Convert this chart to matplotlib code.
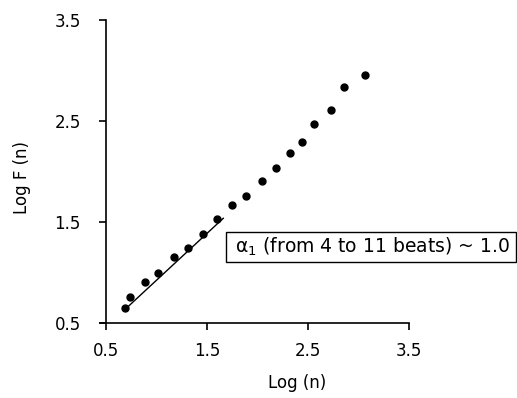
import matplotlib
matplotlib.use("Agg")
import matplotlib.pyplot as plt
from matplotlib.patches import Rectangle

# values
log_n = [0.691, 0.740, 0.888, 1.020, 1.175, 1.310, 1.458, 1.600, 1.745,
         1.889, 2.041, 2.183, 2.318, 2.440, 2.558, 2.726, 2.858, 3.062]
log_f = [0.643, 0.750, 0.903, 0.993, 1.151, 1.237, 1.379, 1.528, 1.664,
         1.753, 1.901, 2.033, 2.182, 2.288, 2.469, 2.605, 2.836, 2.952]

# short-term fit line (4 to 11 beats)
fit_x = [0.684, 1.662]
fit_y = [0.625, 1.535]

ticks = [0.5, 1.5, 2.5, 3.5]
tick_labels = ["0.5", "1.5", "2.5", "3.5"]
note = r"$\mathrm{\alpha}_1$ (from 4 to 11 beats) ~ 1.0"

plt.rcParams['font.family'] = ['DejaVu Sans']
plt.rcParams['mathtext.fontset'] = 'dejavusans'

fig = plt.figure(figsize=(5.17, 3.98), dpi=100)
ax = fig.add_axes([0.2044, 0.1892, 0.5873, 0.7605])

ax.plot(fit_x, fit_y, color="black", lw=1.0)
ax.plot(log_n, log_f, "o", color="black", ms=5)

ax.set_xlim(0.5, 3.5)
ax.set_ylim(0.5, 3.5)
ax.set_xticks(ticks)
ax.set_xticklabels(tick_labels)
ax.set_yticks(ticks)
ax.set_yticklabels(tick_labels)

for side in ["top", "right"]:
    ax.spines[side].set_visible(False)
for side in ["left", "bottom"]:
    ax.spines[side].set_linewidth(1.2)
# the bottom axis pokes a little past the left one in the original
ax.spines["bottom"].set_bounds(0.44, 3.5)

ax.tick_params(axis="x", direction="out", length=5, width=1.2, pad=9, labelsize=12)
ax.tick_params(axis="y", direction="out", length=5, width=1.2, pad=13, labelsize=12)

ax.set_xlabel("Log (n)", fontsize=12)
ax.set_ylabel("Log F (n)", fontsize=12)
ax.xaxis.set_label_coords(0.63, -0.17)
ax.yaxis.set_label_coords(-0.245, 0.48)

# annotation box, placed in figure pixels like the original
box = Rectangle((226 / 517, 1 - 261.7 / 398), (516 - 226) / 517, 30 / 398,
                transform=fig.transFigure, fill=False, edgecolor="black", lw=1.0)
fig.patches.append(box)
fig.text(235 / 517, 1 - 247 / 398, note, fontsize=13.5, va="center", ha="left")

fig.savefig("out.png", dpi=100)
